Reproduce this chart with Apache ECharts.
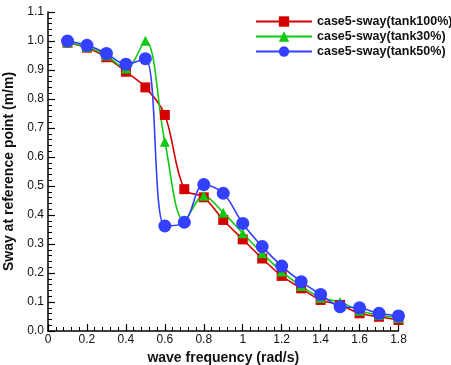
<!DOCTYPE html>
<html><head><meta charset="utf-8">
<script src="https://cdn.jsdelivr.net/npm/echarts@6/dist/echarts.min.js"></script>
<style>html,body{margin:0;padding:0;background:#fff}#c{width:451px;height:365px}</style>
</head><body><div id="c"></div>
<script>
const freq = [0.1,0.2,0.3,0.4,0.5,0.6,0.7,0.8,0.9,1.0,1.1,1.2,1.3,1.4,1.5,1.6,1.7,1.8];
const tank100 = [0.994,0.977,0.944,0.894,0.840,0.745,0.489,0.461,0.383,0.316,0.250,0.190,0.147,0.107,0.090,0.061,0.049,0.038];
const tank30 = [0.995,0.980,0.950,0.905,1.001,0.653,0.380,0.466,0.408,0.337,0.268,0.205,0.155,0.115,0.100,0.070,0.055,0.045];
const tank50 = [1.000,0.985,0.957,0.920,0.939,0.362,0.375,0.505,0.475,0.371,0.291,0.224,0.170,0.126,0.084,0.080,0.061,0.052];
const names = ['case5-sway(tank100%)','case5-sway(tank30%)','case5-sway(tank50%)'];
const pair = a => freq.map((f,i)=>[f,a[i]]);
const font = 'Liberation Sans, Arial, sans-serif';
const chart = echarts.init(document.getElementById('c'));
const mk = (name, data, color, symbol, size) => ({
  name, type:'line', data:pair(data), smooth:0.35, symbol, symbolSize:size,
  showAllSymbol:true,
  lineStyle:{color, width:1.6}, itemStyle:{color, borderWidth:0}
});
chart.setOption({
  animation:false,
  grid:{left:48, right:52.5, top:12, bottom:34, outerBoundsMode:'none', containLabel:false},
  legend:{
    orient:'vertical', left:250, top:10, itemWidth:56, itemHeight:13, itemGap:2,
    textStyle:{fontFamily:font, fontWeight:'bold', fontSize:12.5, color:'#111'},
    data:names
  },
  xAxis:{
    type:'value', min:0, max:1.8, interval:0.2,
    name:'wave frequency (rad/s)', nameLocation:'middle', nameGap:13,
    nameTextStyle:{fontFamily:font, fontWeight:'bold', fontSize:14, color:'#111'},
    axisLine:{lineStyle:{color:'#000', width:1.5}},
    axisTick:{inside:true, length:7, lineStyle:{color:'#000', width:1.2}},
    minorTick:{show:true, splitNumber:5, length:4, lineStyle:{color:'#000', width:1}},
    splitLine:{show:false},
    axisLabel:{fontFamily:font, fontSize:12, color:'#111', margin:3,
      formatter:v=>String(+v.toFixed(1))}
  },
  yAxis:{
    type:'value', min:0, max:1.1, interval:0.1,
    name:'Sway at reference point (m/m)', nameLocation:'middle', nameGap:21,
    nameTextStyle:{fontFamily:font, fontWeight:'bold', fontSize:14, color:'#111'},
    axisLine:{show:true, lineStyle:{color:'#000', width:1.5}},
    axisTick:{inside:true, length:7, lineStyle:{color:'#000', width:1.2}},
    minorTick:{show:true, splitNumber:5, length:4, lineStyle:{color:'#000', width:1}},
    splitLine:{show:false},
    axisLabel:{fontFamily:font, fontSize:12, color:'#111', margin:4,
      formatter:v=>v.toFixed(1)}
  },
  series:[
    mk(names[0], tank100, '#d40000', 'rect', 10),
    mk(names[1], tank30, '#11c811', 'triangle', 10),
    mk(names[2], tank50, '#3340ff', 'circle', 13)
  ]
});
</script></body></html>
